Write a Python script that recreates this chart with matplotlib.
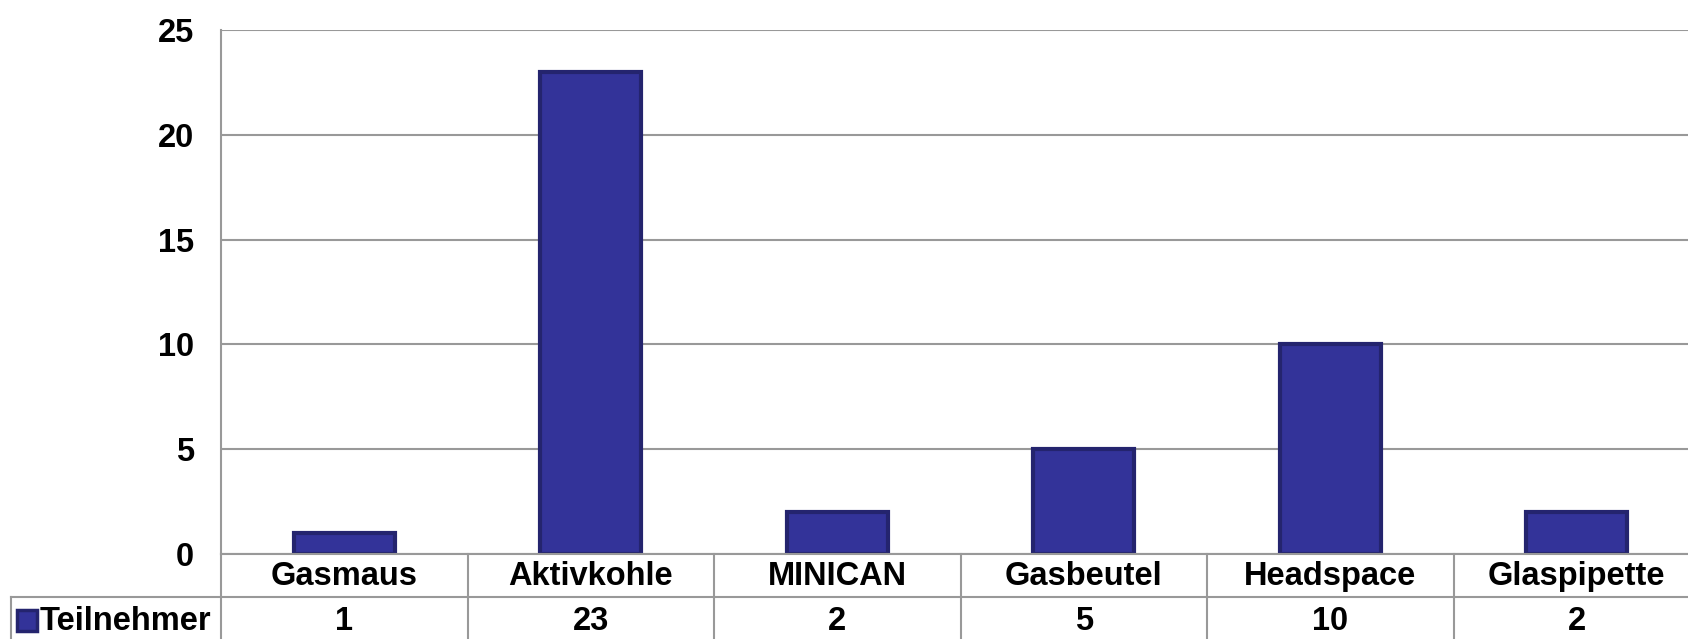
import matplotlib
matplotlib.use("Agg")
import matplotlib.pyplot as plt
from matplotlib.transforms import blended_transform_factory
from matplotlib.patches import Rectangle
from matplotlib.lines import Line2D

categories = ["Gasmaus", "Aktivkohle", "MINICAN", "Gasbeutel", "Headspace", "Glaspipette"]
values = [1, 23, 2, 5, 10, 2]
series_name = "Teilnehmer"
yticks = [0, 5, 10, 15, 20, 25]

W, H = 1688, 639
plt.rcParams['font.family'] = ['Liberation Sans', 'DejaVu Sans']
plt.rcParams['font.weight'] = 'bold'
FS = 23.5

fig = plt.figure(figsize=(W / 100, H / 100), dpi=100)

def fy(py):
    return 1 - py / H

def fx(px):
    return px / W

left_px, right_px, top_px, zero_px = 221, 1700, 30, 554
ax = fig.add_axes([fx(left_px), fy(zero_px), fx(right_px) - fx(left_px), fy(top_px) - fy(zero_px)])

grid_c = '#999999'
bar_face = '#333399'
bar_edge = '#24246e'

x = list(range(len(categories)))
ax.bar(x, values, width=0.41, color=bar_face, edgecolor=bar_edge, linewidth=3, zorder=3)
ax.set_xlim(-0.5, len(categories) - 0.5)
ax.set_ylim(0, 25)
ax.set_yticks(yticks)
ax.set_yticklabels([str(t) for t in yticks], fontsize=FS, fontweight='bold')
ax.tick_params(axis='y', length=0, pad=19.5)
ax.set_xticks([])
ax.yaxis.grid(True, color=grid_c, linewidth=1.5, zorder=0)
ax.set_axisbelow(True)
for s in ['top', 'right', 'bottom']:
    ax.spines[s].set_visible(False)
ax.spines['left'].set_color(grid_c)
ax.spines['left'].set_linewidth(1.5)

# data table beneath
tr = blended_transform_factory(ax.transData, fig.transFigure)
row_sep_px = 597
row1_y = (zero_px + row_sep_px) / 2 + 1
row2_y = (row_sep_px + H) / 2 + 4

fig.add_artist(Line2D([fx(left_px), 1.0], [fy(zero_px), fy(zero_px)], color=grid_c, lw=1.5,
                      transform=fig.transFigure))
fig.add_artist(Line2D([fx(11), 1.0], [fy(row_sep_px), fy(row_sep_px)], color=grid_c, lw=1.5,
                      transform=fig.transFigure))
fig.add_artist(Line2D([fx(left_px), fx(left_px)], [fy(zero_px), 0], color=grid_c, lw=1.5,
                      transform=fig.transFigure))
fig.add_artist(Line2D([fx(11), fx(11)], [fy(row_sep_px), 0], color=grid_c, lw=1.5,
                      transform=fig.transFigure))
for i in range(len(categories)):
    xs = i + 0.5
    fig.add_artist(Line2D([xs, xs], [fy(zero_px), 0], color=grid_c, lw=1.5, transform=tr))

for i, (c, v) in enumerate(zip(categories, values)):
    fig.text(i, fy(row1_y), c, transform=tr, ha='center', va='center', fontsize=FS, fontweight='bold')
    fig.text(i, fy(row2_y), str(v), transform=tr, ha='center', va='center', fontsize=FS, fontweight='bold')

fig.add_artist(Rectangle((fx(17), fy(631)), fx(20), fy(610) - fy(631), transform=fig.transFigure,
                         facecolor=bar_face, edgecolor=bar_edge, linewidth=2.5))
fig.text(fx(40), fy(row2_y), series_name, ha='left', va='center', fontsize=FS, fontweight='bold')

fig.savefig("out.png", dpi=100)
